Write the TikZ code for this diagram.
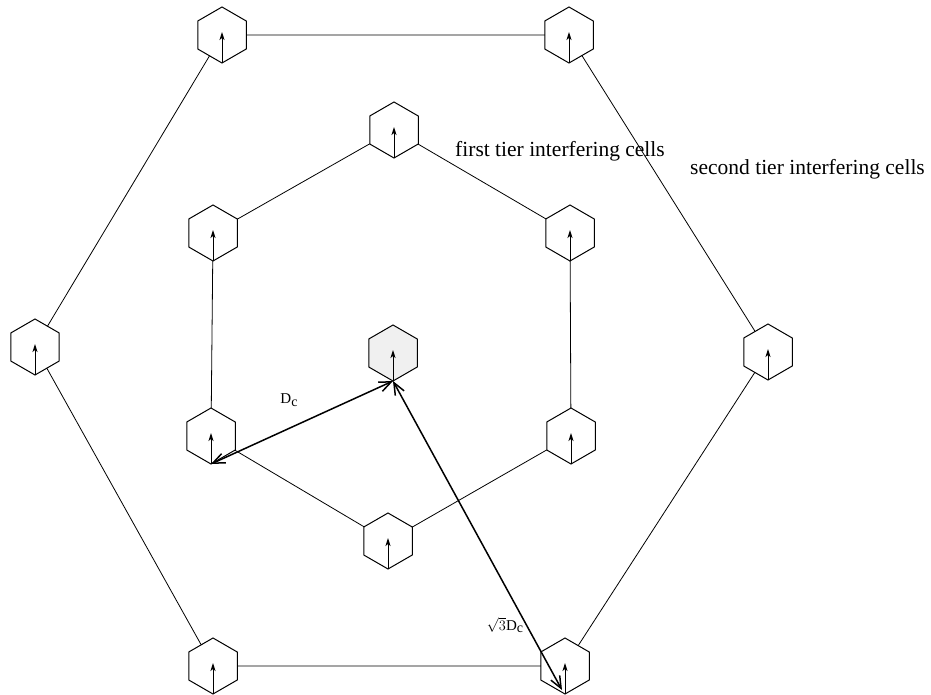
\documentclass[tikz,border=0pt]{standalone}
\usepackage{fontspec}
\setmainfont{Liberation Serif}
\usetikzlibrary{shapes.geometric,arrows.meta,calc}
\begin{document}
\begin{tikzpicture}[x=1pt,y=-1pt,
  cell/.style={draw,line width=1pt,regular polygon,regular polygon sides=6,
    shape border rotate=30,minimum size=56pt,inner sep=0pt,outer sep=0pt},
  link/.style={line width=0.8pt},
  pointer/.style={-{Stealth[length=8pt,width=5pt,inset=2pt]},line width=0.9pt},
  dist/.style={{Straight Barb[length=12pt,width=10pt]}-{Straight Barb[length=12pt,width=10pt]},line width=1.5pt},
  tier/.style={font=\fontsize{21.5}{24}\selectfont,anchor=base west,inner sep=0pt},
  lab/.style={font=\fontsize{15}{18}\selectfont,inner sep=0pt}
]
\useasboundingbox (0,0) rectangle (931,695);

% centre cell
\node[cell,fill=gray!12] (C) at (393,353) {};
% first tier
\node[cell] (T)  at (394,130) {};
\node[cell] (UR) at (570,233) {};
\node[cell] (LR) at (571,436) {};
\node[cell] (B)  at (388,541) {};
\node[cell] (LL) at (211,436) {};
\node[cell] (UL) at (213,233) {};
% second tier
\node[cell] (OTL) at (222,35) {};
\node[cell] (OTR) at (569,35) {};
\node[cell] (OR)  at (768,352) {};
\node[cell] (OBR) at (565,666) {};
\node[cell] (OBL) at (213,666) {};
\node[cell] (OL)  at (35,347) {};

% rings
\draw[link] (T) -- (UR) -- (LR) -- (B) -- (LL) -- (UL) -- (T);
\draw[link] (OTL) -- (OTR) -- (OR) -- (OBR) -- (OBL) -- (OL) -- (OTL);

% pointers inside the cells
\foreach \n in {C,T,UR,LR,B,LL,UL,OTL,OTR,OR,OBR,OBL,OL}
  \draw[pointer] ($(\n)+(0,28)$) -- ($(\n)+(0,-3)$);

% reuse distances
\draw[dist] ($(LL)+(0,28)$) -- ($(C)+(0,28)$);
\draw[dist] ($(C)+(0,28)$) -- ($(OBR)+(-3,24)$);

% labels
\node[lab] (dc) at (289,400) {D\raisebox{-0.4ex}{\fontsize{14}{16}\selectfont c}};
\node[lab] (sdc) at (505,625) {$\sqrt{3}$D\raisebox{-0.4ex}{\fontsize{14}{16}\selectfont c}};
\node[tier] (t1) at (455,157) {first tier interfering cells};
\node[tier] (t2) at (690,175) {second tier interfering cells};
\end{tikzpicture}
\end{document}
